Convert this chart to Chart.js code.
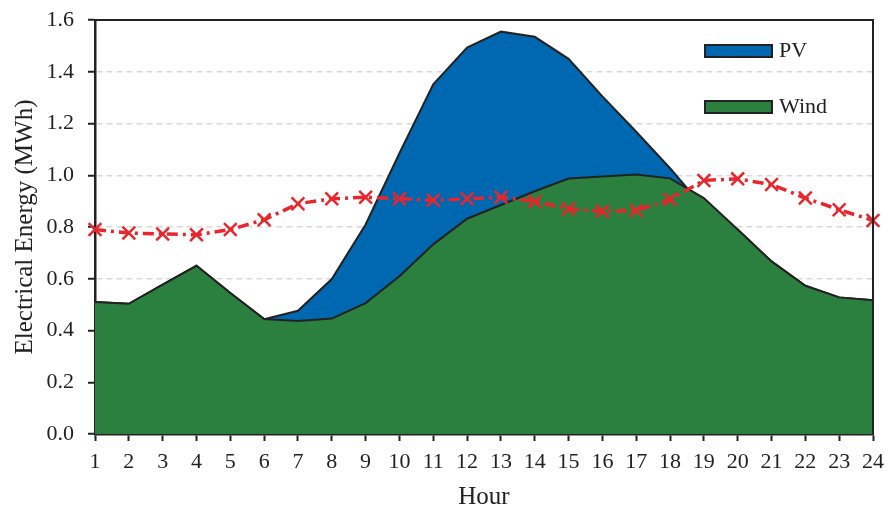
<!DOCTYPE html>
<html>
<head>
<meta charset="utf-8">
<script src="https://cdn.jsdelivr.net/npm/chart.js@4/dist/chart.umd.min.js"></script>
<style>
  html, body { margin: 0; padding: 0; background: #fff; }
  #wrap { width: 889px; height: 510px; }
</style>
</head>
<body>
<div id="wrap"><canvas id="chart" width="889" height="510"></canvas></div>
<script>
// hours on the x axis
const hours = ['1','2','3','4','5','6','7','8','9','10','11','12','13','14','15','16','17','18','19','20','21','22','23','24'];
// wind energy (MWh)
const wind = [0.51, 0.503, 0.577, 0.65, 0.545, 0.444, 0.437, 0.446, 0.506, 0.61, 0.733, 0.832, 0.885, 0.938, 0.987, 0.995, 1.003, 0.988, 0.912, 0.79, 0.667, 0.573, 0.528, 0.517];
// PV area top edge (PV + wind), drawn behind the wind area
const pvTotal = [0.51, 0.503, 0.577, 0.65, 0.545, 0.444, 0.476, 0.599, 0.81, 1.085, 1.351, 1.493, 1.555, 1.535, 1.45, 1.305, 1.168, 1.027, 0.875, 0.79, 0.667, 0.573, 0.528, 0.517];
// red dash-dot line with x markers
const load = [0.79, 0.777, 0.773, 0.77, 0.79, 0.828, 0.89, 0.909, 0.915, 0.909, 0.903, 0.909, 0.915, 0.899, 0.87, 0.861, 0.864, 0.906, 0.98, 0.986, 0.964, 0.912, 0.867, 0.825];

const yTicks = [0, 0.2, 0.4, 0.6, 0.8, 1.0, 1.2, 1.4, 1.6];

const serif = "'Liberation Serif', 'Times New Roman', serif";
const ink = '#222222';
const blue = '#0067b1';
const green = '#2b7f3f';
const red = '#e8262b';

// legend entries drawn inside the plot (PV, Wind)
const legendItems = [
    { label: 'PV', color: blue },
    { label: 'Wind', color: green },
];

const framePlugin = {
    id: 'frame',
    afterDatasetsDraw(chart) {
        const a = chart.chartArea;
        const ctx = chart.ctx;
        ctx.save();
        ctx.strokeStyle = ink;
        ctx.lineWidth = 2;
        ctx.beginPath();
        ctx.moveTo(a.left, a.top);
        ctx.lineTo(a.right, a.top);
        ctx.lineTo(a.right, a.bottom);
        ctx.stroke();
        ctx.restore();
    },
    afterDraw(chart) {
        // legend
        const a = chart.chartArea;
        const ctx = chart.ctx;
        ctx.save();
        ctx.font = "22px " + serif;
        ctx.textBaseline = 'middle';
        ctx.textAlign = 'left';
        legendItems.forEach((item, i) => {
            const bx = a.right - 168;
            const by = a.top + 25 + i * 56;
            ctx.fillStyle = item.color;
            ctx.fillRect(bx, by, 67, 12);
            ctx.strokeStyle = ink;
            ctx.lineWidth = 2;
            ctx.strokeRect(bx, by, 67, 12);
            ctx.fillStyle = ink;
            ctx.fillText(item.label, bx + 74, by + 6);
        });
        ctx.restore();
    }
};

document.addEventListener("DOMContentLoaded", function() {
    const canvas = document.getElementById('chart');
    const data = {
        labels: hours,
        datasets: [
            {
                label: 'Load',
                data: load,
                borderColor: red,
                backgroundColor: red,
                borderWidth: 3.5,
                borderDash: [11, 5, 3, 5],
                pointStyle: 'crossRot',
                pointRadius: 9,
                pointBorderWidth: 2.5,
                pointBorderColor: red,
                fill: false,
                clip: false,
            },
            {
                label: 'Wind',
                data: wind,
                borderColor: ink,
                borderWidth: 2,
                backgroundColor: green,
                pointRadius: 0,
                fill: 'origin',
            },
            {
                label: 'PV',
                data: pvTotal,
                borderColor: ink,
                borderWidth: 2,
                backgroundColor: blue,
                pointRadius: 0,
                fill: 'origin',
            },
        ]
    };
    const config = {
        type: 'line',
        data: data,
        options: {
            responsive: false,
            animation: false,
            layout: { padding: { left: 0, right: 16, top: 20, bottom: 0 } },
            plugins: {
                legend: { display: false },
                tooltip: { enabled: false },
            },
            scales: {
                x: {
                    grid: {
                        drawOnChartArea: false,
                        drawTicks: true,
                        tickLength: 7,
                        tickColor: ink,
                        tickWidth: 2,
                    },
                    border: { color: ink, width: 2.5 },
                    ticks: {
                        color: ink,
                        padding: 8,
                        maxRotation: 0,
                        autoSkip: false,
                        font: { family: serif, size: 22 },
                    },
                    title: {
                        display: true,
                        text: 'Hour',
                        color: ink,
                        font: { family: serif, size: 25, lineHeight: 1 },
                        padding: { top: 0, bottom: 0 },
                    },
                    afterFit: s => { s.height = 76; s.paddingLeft = 0; s.paddingRight = 0; },
                },
                y: {
                    min: 0,
                    max: 1.6,
                    afterBuildTicks: s => { s.ticks = yTicks.map(v => ({ value: v })); },
                    grid: {
                        color: '#d9d9d9',
                        lineWidth: 1.5,
                        tickLength: 7,
                        tickColor: ink,
                        tickWidth: 2,
                    },
                    border: { color: ink, width: 2.5, dash: [6, 4] },
                    ticks: {
                        color: ink,
                        padding: 14,
                        font: { family: serif, size: 22 },
                        callback: v => Number(v).toFixed(1),
                    },
                    title: {
                        display: true,
                        text: 'Electrical Energy (MWh)',
                        color: ink,
                        font: { family: serif, size: 25, lineHeight: 1 },
                        padding: { top: 13, bottom: 0 },
                    },
                    afterFit: s => { s.width = 95; s.paddingTop = 0; s.paddingBottom = 0; },
                },
            },
        },
        plugins: [framePlugin],
    };
    new Chart(canvas, config);
});
</script>
</body>
</html>
